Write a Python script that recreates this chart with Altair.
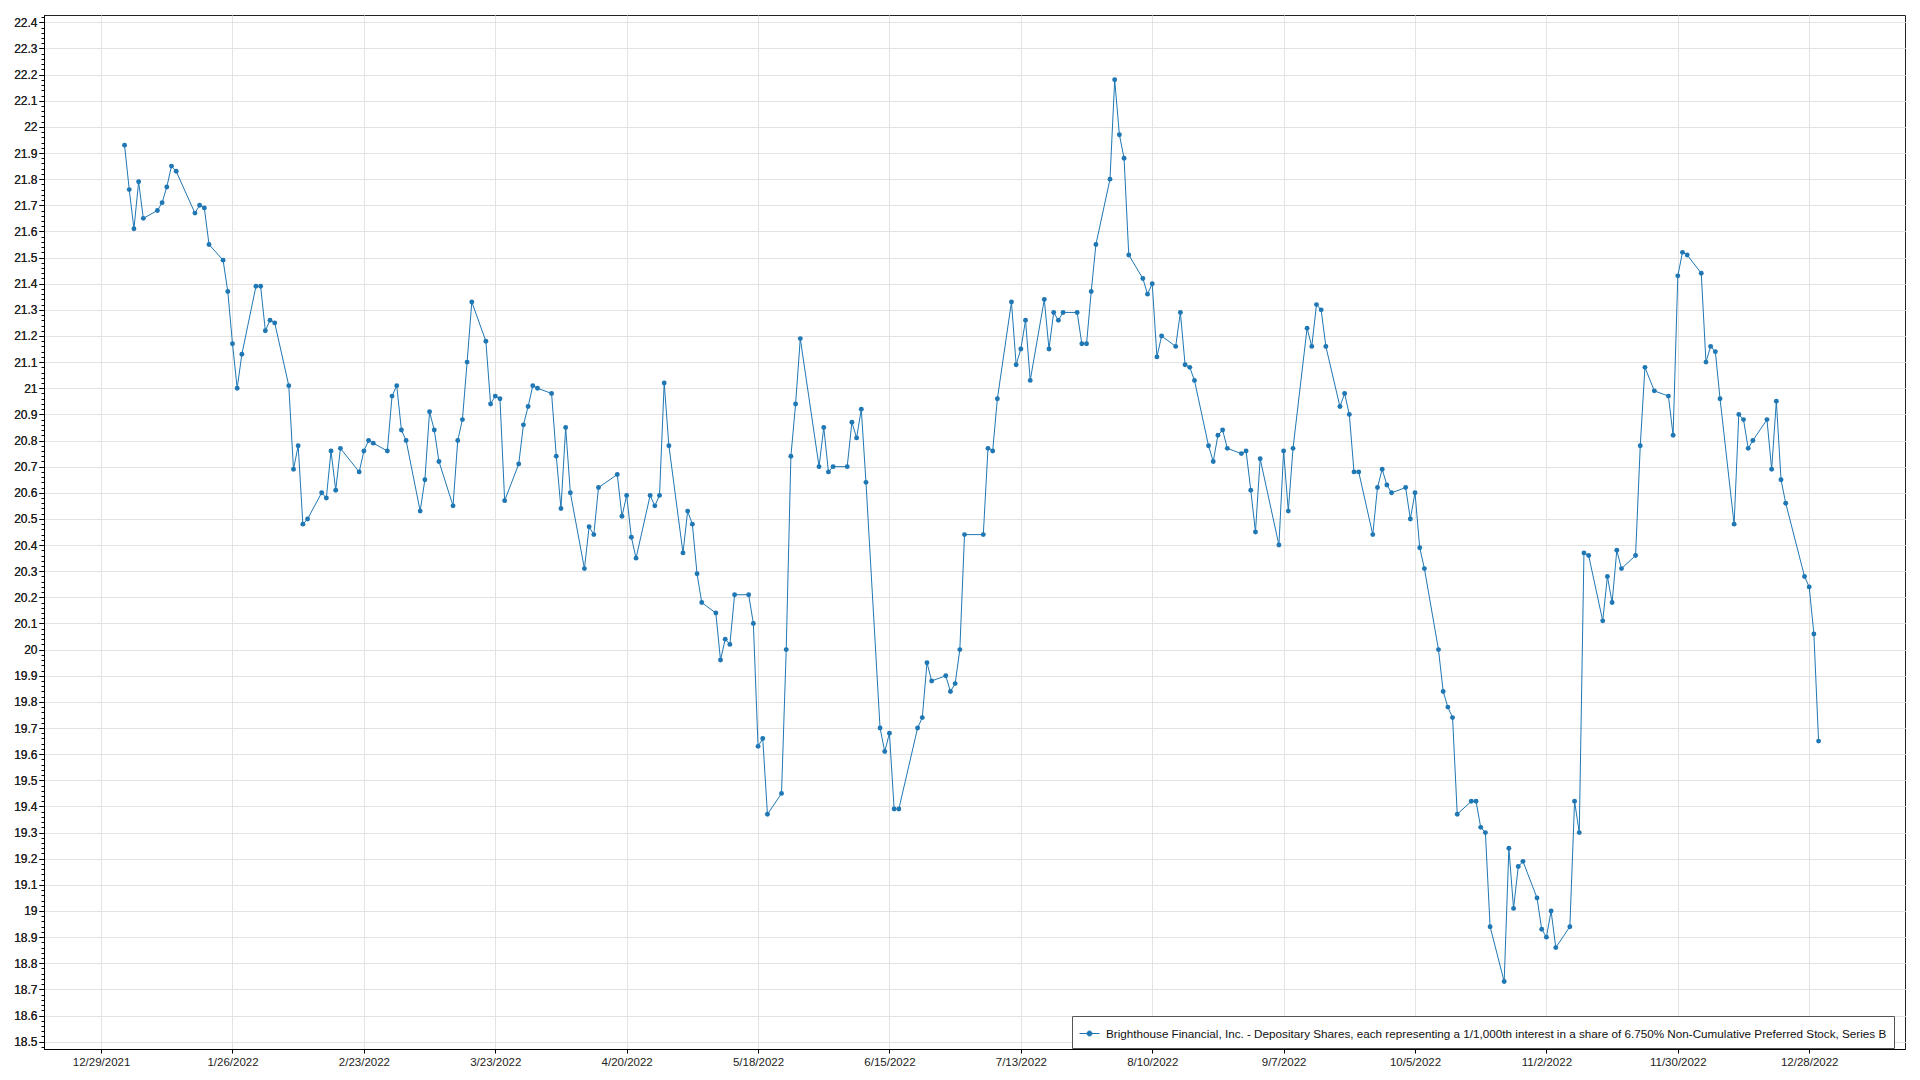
import altair as alt
import pandas as pd

series_name = ("Brighthouse Financial, Inc. - Depositary Shares, each representing a 1/1,000th "
               "interest in a share of 6.750% Non-Cumulative Preferred Stock, Series B")

dates = [
    "2022-01-03", "2022-01-04", "2022-01-05", "2022-01-06", "2022-01-07", "2022-01-10", "2022-01-11",
    "2022-01-12", "2022-01-13", "2022-01-14", "2022-01-18", "2022-01-19", "2022-01-20", "2022-01-21",
    "2022-01-24", "2022-01-25", "2022-01-26", "2022-01-27", "2022-01-28", "2022-01-31",
    "2022-02-01", "2022-02-02", "2022-02-03", "2022-02-04", "2022-02-07", "2022-02-08", "2022-02-09",
    "2022-02-10", "2022-02-11", "2022-02-14", "2022-02-15", "2022-02-16", "2022-02-17", "2022-02-18",
    "2022-02-22", "2022-02-23", "2022-02-24", "2022-02-25", "2022-02-28",
    "2022-03-01", "2022-03-02", "2022-03-03", "2022-03-04", "2022-03-07", "2022-03-08", "2022-03-09",
    "2022-03-10", "2022-03-11", "2022-03-14", "2022-03-15", "2022-03-16", "2022-03-17", "2022-03-18",
    "2022-03-21", "2022-03-22", "2022-03-23", "2022-03-24", "2022-03-25", "2022-03-28", "2022-03-29",
    "2022-03-30", "2022-03-31",
    "2022-04-01", "2022-04-04", "2022-04-05", "2022-04-06", "2022-04-07", "2022-04-08", "2022-04-11",
    "2022-04-12", "2022-04-13", "2022-04-14", "2022-04-18", "2022-04-19", "2022-04-20", "2022-04-21",
    "2022-04-22", "2022-04-25", "2022-04-26", "2022-04-27", "2022-04-28", "2022-04-29",
    "2022-05-02", "2022-05-03", "2022-05-04", "2022-05-05", "2022-05-06", "2022-05-09", "2022-05-10",
    "2022-05-11", "2022-05-12", "2022-05-13", "2022-05-16", "2022-05-17", "2022-05-18", "2022-05-19",
    "2022-05-20", "2022-05-23", "2022-05-24", "2022-05-25", "2022-05-26", "2022-05-27", "2022-05-31",
    "2022-06-01", "2022-06-02", "2022-06-03", "2022-06-06", "2022-06-07", "2022-06-08", "2022-06-09",
    "2022-06-10", "2022-06-13", "2022-06-14", "2022-06-15", "2022-06-16", "2022-06-17", "2022-06-21",
    "2022-06-22", "2022-06-23", "2022-06-24", "2022-06-27", "2022-06-28", "2022-06-29", "2022-06-30",
    "2022-07-01", "2022-07-05", "2022-07-06", "2022-07-07", "2022-07-08", "2022-07-11", "2022-07-12",
    "2022-07-13", "2022-07-14", "2022-07-15", "2022-07-18", "2022-07-19", "2022-07-20", "2022-07-21",
    "2022-07-22", "2022-07-25", "2022-07-26", "2022-07-27", "2022-07-28", "2022-07-29",
    "2022-08-01", "2022-08-02", "2022-08-03", "2022-08-04", "2022-08-05", "2022-08-08", "2022-08-09",
    "2022-08-10", "2022-08-11", "2022-08-12", "2022-08-15", "2022-08-16", "2022-08-17", "2022-08-18",
    "2022-08-19", "2022-08-22", "2022-08-23", "2022-08-24", "2022-08-25", "2022-08-26", "2022-08-29",
    "2022-08-30", "2022-08-31",
    "2022-09-01", "2022-09-02", "2022-09-06", "2022-09-07", "2022-09-08", "2022-09-09", "2022-09-12",
    "2022-09-13", "2022-09-14", "2022-09-15", "2022-09-16", "2022-09-19", "2022-09-20", "2022-09-21",
    "2022-09-22", "2022-09-23", "2022-09-26", "2022-09-27", "2022-09-28", "2022-09-29", "2022-09-30",
    "2022-10-03", "2022-10-04", "2022-10-05", "2022-10-06", "2022-10-07", "2022-10-10", "2022-10-11",
    "2022-10-12", "2022-10-13", "2022-10-14", "2022-10-17", "2022-10-18", "2022-10-19", "2022-10-20",
    "2022-10-21", "2022-10-24", "2022-10-25", "2022-10-26", "2022-10-27", "2022-10-28", "2022-10-31",
    "2022-11-01", "2022-11-02", "2022-11-03", "2022-11-04", "2022-11-07", "2022-11-08", "2022-11-09",
    "2022-11-10", "2022-11-11", "2022-11-14", "2022-11-15", "2022-11-16", "2022-11-17", "2022-11-18",
    "2022-11-21", "2022-11-22", "2022-11-23", "2022-11-25", "2022-11-28", "2022-11-29", "2022-11-30",
    "2022-12-01", "2022-12-02", "2022-12-05", "2022-12-06", "2022-12-07", "2022-12-08", "2022-12-09",
    "2022-12-12", "2022-12-13", "2022-12-14", "2022-12-15", "2022-12-16", "2022-12-19", "2022-12-20",
    "2022-12-21", "2022-12-22", "2022-12-23", "2022-12-27", "2022-12-28", "2022-12-29", "2022-12-30",
]

prices = [
    21.93, 21.76, 21.61, 21.79, 21.65, 21.68, 21.71,
    21.77, 21.85, 21.83, 21.67, 21.70, 21.69, 21.55,
    21.49, 21.37, 21.17, 21.00, 21.13, 21.39,
    21.39, 21.22, 21.26, 21.25, 21.01, 20.69, 20.78,
    20.48, 20.50, 20.60, 20.58, 20.76, 20.61, 20.77,
    20.68, 20.76, 20.80, 20.79, 20.76,
    20.97, 21.01, 20.84, 20.80, 20.53, 20.65, 20.91,
    20.84, 20.72, 20.55, 20.80, 20.88, 21.10, 21.33,
    21.18, 20.94, 20.97, 20.96, 20.57, 20.71, 20.86,
    20.93, 21.01,
    21.00, 20.98, 20.74, 20.54, 20.85, 20.60, 20.31,
    20.47, 20.44, 20.62, 20.67, 20.51, 20.59, 20.43,
    20.35, 20.59, 20.55, 20.59, 21.02, 20.78,
    20.37, 20.53, 20.48, 20.29, 20.18, 20.14, 19.96,
    20.04, 20.02, 20.21, 20.21, 20.10, 19.63, 19.66,
    19.37, 19.45, 20.00, 20.74, 20.94, 21.19, 20.70,
    20.85, 20.68, 20.70, 20.70, 20.87, 20.81, 20.92,
    20.64, 19.70, 19.61, 19.68, 19.39, 19.39, 19.70,
    19.74, 19.95, 19.88, 19.90, 19.84, 19.87, 20.00,
    20.44, 20.44, 20.77, 20.76, 20.96, 21.33, 21.09,
    21.15, 21.26, 21.03, 21.34, 21.15, 21.29, 21.26,
    21.29, 21.29, 21.17, 21.17, 21.37, 21.55,
    21.80, 22.18, 21.97, 21.88, 21.51, 21.42, 21.36,
    21.40, 21.12, 21.20, 21.16, 21.29, 21.09, 21.08,
    21.03, 20.78, 20.72, 20.82, 20.84, 20.77, 20.75,
    20.76, 20.61,
    20.45, 20.73, 20.40, 20.76, 20.53, 20.77, 21.23,
    21.16, 21.32, 21.30, 21.16, 20.93, 20.98, 20.90,
    20.68, 20.68, 20.44, 20.62, 20.69, 20.63, 20.60,
    20.62, 20.50, 20.60, 20.39, 20.31, 20.00, 19.84,
    19.78, 19.74, 19.37, 19.42, 19.42, 19.32, 19.30,
    18.94, 18.73, 19.24, 19.01, 19.17, 19.19, 19.05,
    18.93, 18.90, 19.00, 18.86, 18.94, 19.42, 19.30,
    20.37, 20.36, 20.11, 20.28, 20.18, 20.38, 20.31,
    20.36, 20.78, 21.08, 20.99, 20.97, 20.82, 21.43,
    21.52, 21.51, 21.44, 21.10, 21.16, 21.14, 20.96,
    20.48, 20.90, 20.88, 20.77, 20.80, 20.88, 20.69,
    20.95, 20.65, 20.56, 20.28, 20.24, 20.06, 19.65,
]

# x-axis tick dates (year, month, day)
x_tick_dates = [
    (2021, 12, 29), (2022, 1, 26), (2022, 2, 23), (2022, 3, 23), (2022, 4, 20),
    (2022, 5, 18), (2022, 6, 15), (2022, 7, 13), (2022, 8, 10), (2022, 9, 7),
    (2022, 10, 5), (2022, 11, 2), (2022, 11, 30), (2022, 12, 28),
]

y_ticks = [
    18.5, 18.6, 18.7, 18.8, 18.9, 19.0, 19.1, 19.2, 19.3, 19.4,
    19.5, 19.6, 19.7, 19.8, 19.9, 20.0, 20.1, 20.2, 20.3, 20.4,
    20.5, 20.6, 20.7, 20.8, 20.9, 21.0, 21.1, 21.2, 21.3, 21.4,
    21.5, 21.6, 21.7, 21.8, 21.9, 22.0, 22.1, 22.2, 22.3, 22.4,
]
y_minor_ticks = [round(18.48 + 0.02 * i, 2) for i in range(198)]

LINE_COLOR = "#1f77b4"
FONT = "Liberation Sans"

df = pd.DataFrame({"date": dates, "price": prices, "series": series_name})

x_enc = alt.X(
    "date:T",
    scale=alt.Scale(
        type="utc",
        domain=[
            alt.DateTime(year=2021, month=12, date=16, hours=20, utc=True),
            alt.DateTime(year=2023, month=1, date=17, hours=10, utc=True),
        ],
    ),
    axis=alt.Axis(
        values=[alt.DateTime(year=y, month=m, date=d, utc=True) for (y, m, d) in x_tick_dates],
        labelExpr="utcFormat(datum.value, '%-m/%-d/%Y')",
        title=None,
        grid=True,
        gridColor="#e3e3e3",
        tickColor="#000",
        domainColor="#000",
        tickSize=4,
        labelPadding=3,
        labelFont=FONT,
        labelFontSize=11.5,
        labelColor="#222",
        labelFlush=False,
        labelOverlap=False,
    ),
)

y_enc = alt.Y(
    "price:Q",
    scale=alt.Scale(domain=[18.472, 22.428], nice=False, zero=False),
    axis=alt.Axis(
        values=y_ticks,
        format=".1~f",
        title=None,
        grid=True,
        gridColor="#e3e3e3",
        tickColor="#000",
        domainColor="#000",
        tickSize=5,
        labelPadding=2,
        labelFont=FONT,
        labelFontSize=12,
        labelColor="#222",
        labelOverlap=False,
        labelFlush=False,
        orient="left",
    ),
)

color_enc = alt.Color(
    "series:N",
    scale=alt.Scale(range=[LINE_COLOR]),
    legend=alt.Legend(
        title=None,
        orient="none",
        legendX=1028,
        legendY=1001,
        direction="vertical",
        labelLimit=2000,
        labelFont=FONT,
        labelFontSize=11.7,
        labelColor="#111",
        labelOffset=6,
        symbolType="M-1,0H1M-0.25,0a0.25,0.25 0 1,0 0.5,0a0.25,0.25 0 1,0 -0.5,0",
        symbolSize=400,
        symbolStrokeWidth=1,
        symbolFillColor=LINE_COLOR,
        symbolStrokeColor=LINE_COLOR,
        strokeColor="#555",
        fillColor="#ffffff",
        padding=7,
    ),
)

base = alt.Chart(df)
line = base.mark_line(strokeWidth=1).encode(x=x_enc, y=y_enc, color=color_enc)
points = base.mark_circle(size=24, opacity=1).encode(x=x_enc, y=y_enc, color=color_enc)

minor = base.mark_point(opacity=0).encode(
    x=x_enc,
    y=alt.Y(
        "price:Q",
        scale=alt.Scale(domain=[18.472, 22.428], nice=False, zero=False),
        axis=alt.Axis(
            values=y_minor_ticks,
            labels=False,
            grid=False,
            domain=False,
            tickSize=3,
            tickColor="#000",
            title=None,
            orient="left",
        ),
    ),
)

chart = (
    alt.layer(line, points, minor)
    .resolve_axis(y="independent")
    .properties(
        width=1861,
        height=1034,
        padding={"left": 5, "top": 7, "right": 5, "bottom": 5},
        background="white",
    )
    .configure_view(stroke="#222", strokeWidth=1)
)

chart.save("out.html", embed_options={"renderer": "svg", "actions": False})
